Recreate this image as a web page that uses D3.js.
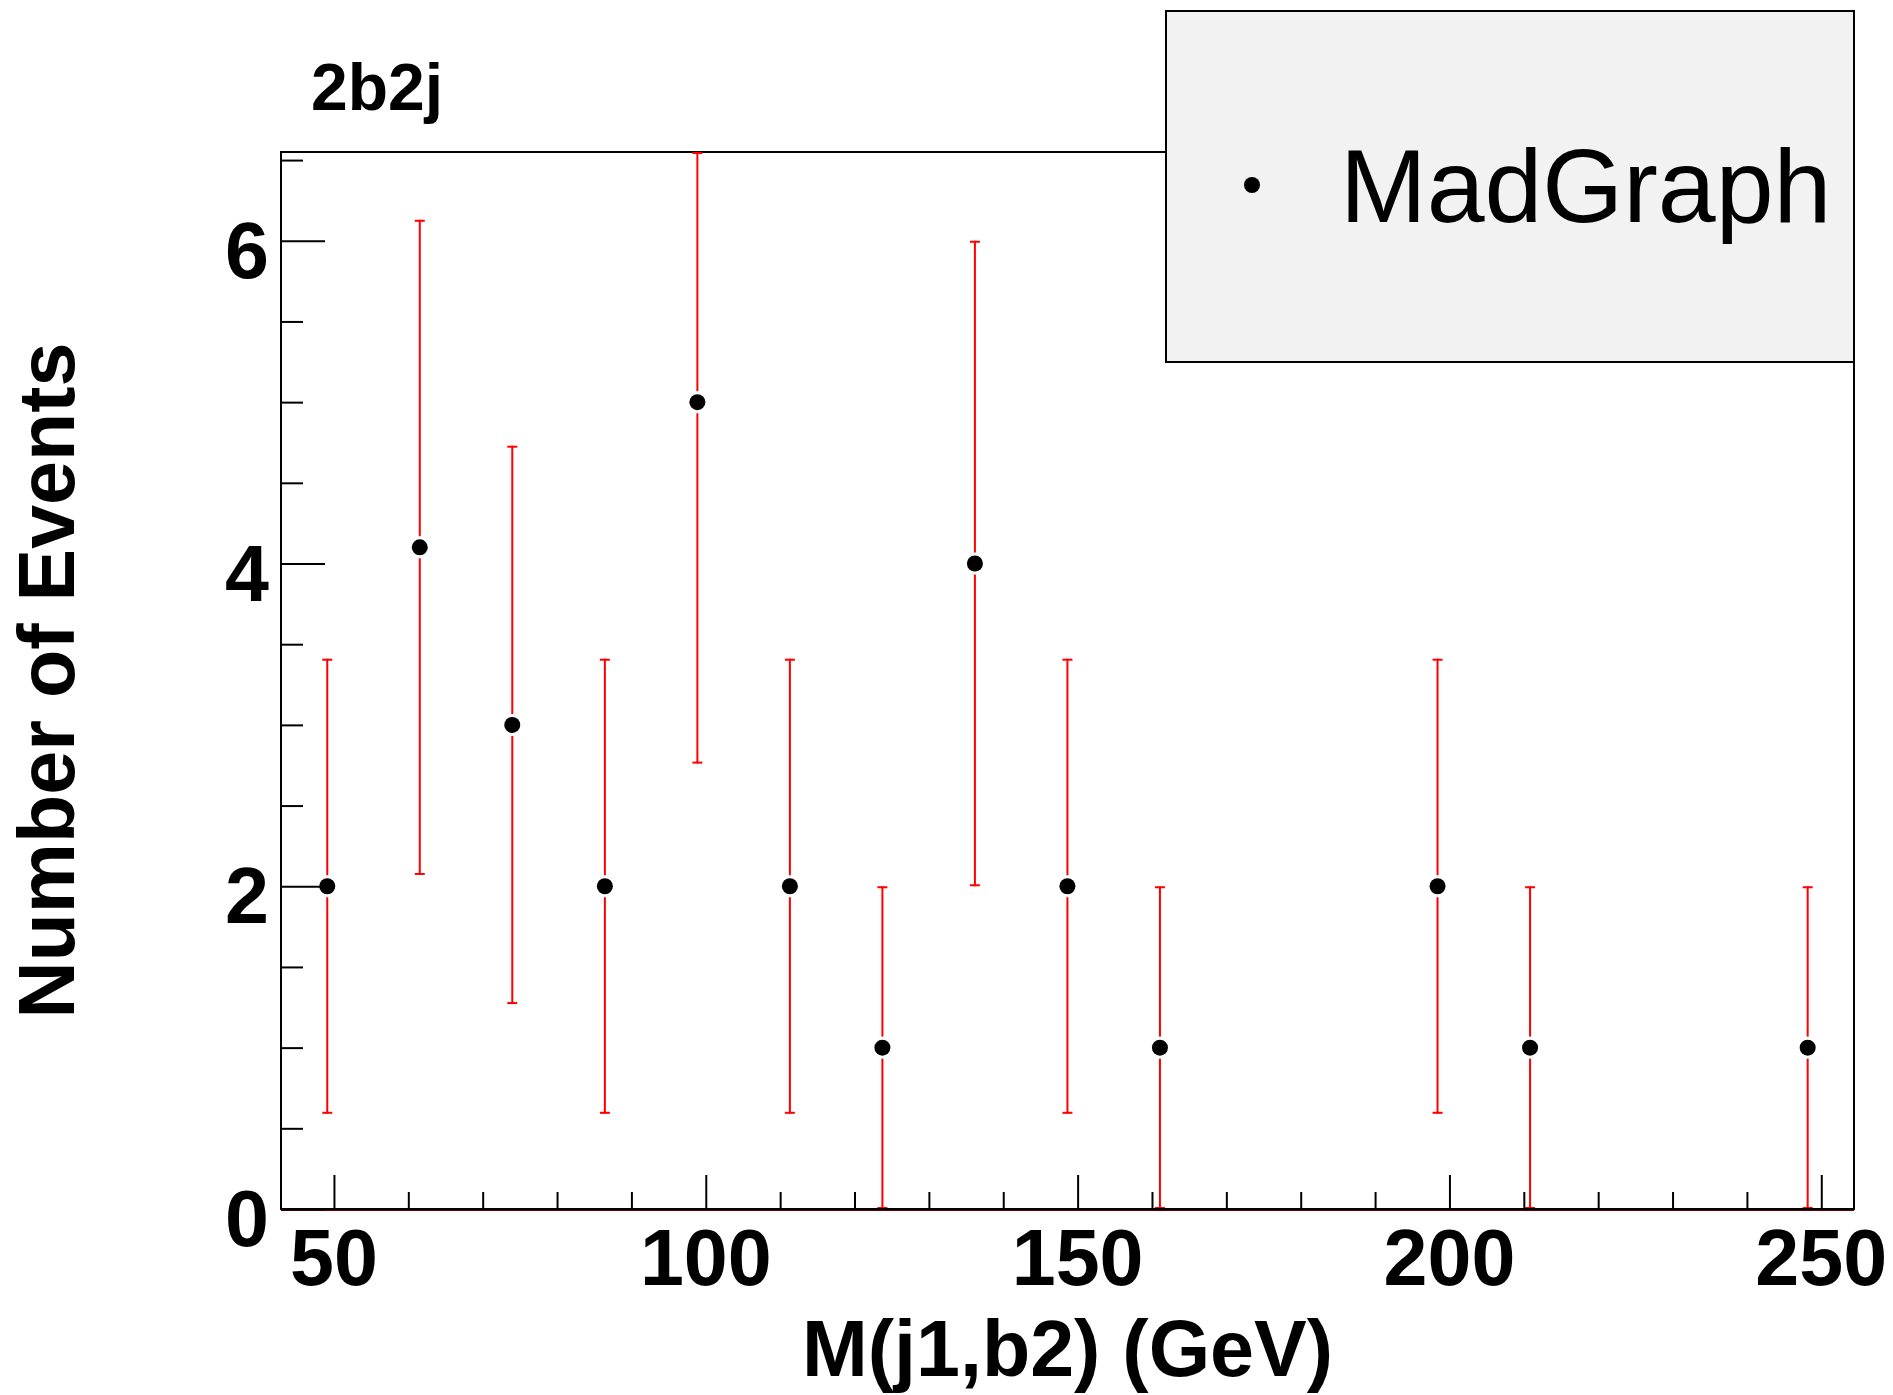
<!DOCTYPE html>
<html>
<head>
<meta charset="utf-8">
<script src="https://cdn.jsdelivr.net/npm/d3@7"></script>
<style>
  html, body { margin: 0; padding: 0; background: #ffffff; }
  svg { display: block; }
</style>
</head>
<body>
<script>
// ---- data ----
const binCenters = [49.10, 61.54, 73.98, 86.43, 98.87, 111.31, 123.75, 136.19, 148.63, 161.07, 173.52, 185.96, 198.40, 210.84, 223.28, 235.72, 248.17];
const counts     = [2, 4.1, 3, 2, 5, 2, 1, 4, 2, 1, 0, 0, 2, 1, 0, 0, 1];
const errors     = [1.41, 2.03, 1.73, 1.41, 2.24, 1.41, 1, 2, 1.41, 1, 0, 0, 1.41, 1, 0, 0, 1];
const xMajorTicks = [50, 100, 150, 200, 250];
const xMinorTicks = [60, 70, 80, 90, 110, 120, 130, 140, 160, 170, 180, 190, 210, 220, 230, 240];
const yMajorTicks = [0, 2, 4, 6];
const yMinorTicks = [0.5, 1, 1.5, 2.5, 3, 3.5, 4.5, 5, 5.5, 6.5];
const xDomain = [42.88, 254.4];
const yDomain = [0, 6.55];
const titleText = "2b2j";
const xTitle = "M(j1,b2) (GeV)";
const yTitle = "Number of Events";
const legendLabel = "MadGraph";

// ---- layout ----
const W = 1893, H = 1395;
const frame = { left: 281, right: 1854, top: 152, bottom: 1209 };
const FONT = "'Liberation Sans', Arial, Helvetica, sans-serif";

const svg = d3.select("body").append("svg").attr("width", W).attr("height", H);

const x = d3.scaleLinear().domain(xDomain).range([frame.left, frame.right]);
const y = d3.scaleLinear().domain(yDomain).range([frame.bottom, frame.top]);

// frame
svg.append("rect")
  .attr("x", frame.left).attr("y", frame.top)
  .attr("width", frame.right - frame.left).attr("height", frame.bottom - frame.top)
  .attr("fill", "none").attr("stroke", "#000").attr("stroke-width", 2);

// dark red line just under x axis
svg.append("line")
  .attr("x1", frame.left).attr("x2", frame.right)
  .attr("y1", frame.bottom + 1.5).attr("y2", frame.bottom + 1.5)
  .attr("stroke", "#700000").attr("stroke-width", 1);

// x axis (major + minor ticks, labels)
const xAxisMajor = d3.axisTop(x).tickValues(xMajorTicks).tickSize(34).tickFormat("");
const xAxisMinor = d3.axisTop(x).tickValues(xMinorTicks).tickSize(17).tickFormat("");
const gxM = svg.append("g").attr("transform", `translate(0,${frame.bottom})`).call(xAxisMajor);
const gxm = svg.append("g").attr("transform", `translate(0,${frame.bottom})`).call(xAxisMinor);
[gxM, gxm].forEach(g => {
  g.select(".domain").remove();
  g.selectAll(".tick line").attr("stroke", "#000").attr("stroke-width", 2);
});
svg.append("g").selectAll("text").data(xMajorTicks).join("text")
  .attr("x", d => x(d)).attr("y", 1285)
  .attr("text-anchor", "middle")
  .attr("font-family", FONT).attr("font-weight", "bold").attr("font-size", 79)
  .attr("fill", "#000")
  .text(d => d);

// y axis
const yAxisMajor = d3.axisRight(y).tickValues(yMajorTicks).tickSize(44).tickFormat("");
const yAxisMinor = d3.axisRight(y).tickValues(yMinorTicks).tickSize(22).tickFormat("");
const gyM = svg.append("g").attr("transform", `translate(${frame.left},0)`).call(yAxisMajor);
const gym = svg.append("g").attr("transform", `translate(${frame.left},0)`).call(yAxisMinor);
[gyM, gym].forEach(g => {
  g.select(".domain").remove();
  g.selectAll(".tick line").attr("stroke", "#000").attr("stroke-width", 2);
});
svg.append("g").selectAll("text").data(yMajorTicks).join("text")
  .attr("x", 269).attr("y", d => y(d) + 37)
  .attr("text-anchor", "end")
  .attr("font-family", FONT).attr("font-weight", "bold").attr("font-size", 79)
  .attr("fill", "#000")
  .text(d => d);

// axis titles
svg.append("text")
  .attr("x", (frame.left + frame.right) / 2).attr("y", 1376)
  .attr("text-anchor", "middle")
  .attr("font-family", FONT).attr("font-weight", "bold").attr("font-size", 79)
  .attr("fill", "#000")
  .text(xTitle);

svg.append("text")
  .attr("transform", `translate(74,${(frame.top + frame.bottom) / 2}) rotate(-90)`)
  .attr("text-anchor", "middle")
  .attr("font-family", FONT).attr("font-weight", "bold").attr("font-size", 79)
  .attr("fill", "#000")
  .text(yTitle);

// title
svg.append("text")
  .attr("x", 311).attr("y", 110)
  .attr("font-family", FONT).attr("font-weight", "bold").attr("font-size", 66)
  .attr("fill", "#000")
  .text(titleText);

// data points with error bars
const pts = binCenters.map((c, i) => ({ c, v: counts[i], e: errors[i] })).filter(d => d.v > 0);
const yClip = v => Math.max(yDomain[0], Math.min(yDomain[1], v));
const gap = 11, capW = 5;
const gErr = svg.append("g").attr("stroke", "#ff0000").attr("stroke-width", 2);
pts.forEach(d => {
  const cx = x(d.c), cy = y(d.v);
  const yTop = y(yClip(d.v + d.e)), yBot = y(yClip(d.v - d.e));
  if (cy - gap > yTop) gErr.append("line").attr("x1", cx).attr("x2", cx).attr("y1", yTop).attr("y2", cy - gap);
  if (cy + gap < yBot) gErr.append("line").attr("x1", cx).attr("x2", cx).attr("y1", cy + gap).attr("y2", yBot);
  gErr.append("line").attr("x1", cx - capW).attr("x2", cx + capW).attr("y1", yTop + 1).attr("y2", yTop + 1);
  gErr.append("line").attr("x1", cx - capW).attr("x2", cx + capW).attr("y1", yBot - 1).attr("y2", yBot - 1);
});
svg.append("g").selectAll("circle").data(pts).join("circle")
  .attr("cx", d => x(d.c)).attr("cy", d => y(d.v)).attr("r", 8)
  .attr("fill", "#000");

// redraw bottom axis line on top
svg.append("line")
  .attr("x1", frame.left).attr("x2", frame.right)
  .attr("y1", frame.bottom).attr("y2", frame.bottom)
  .attr("stroke", "#000").attr("stroke-width", 2);

// legend
const leg = { x0: 1166, x1: 1854, y0: 11, y1: 362 };
svg.append("rect")
  .attr("x", leg.x0).attr("y", leg.y0)
  .attr("width", leg.x1 - leg.x0).attr("height", leg.y1 - leg.y0)
  .attr("fill", "#f2f2f2").attr("stroke", "#000").attr("stroke-width", 2);
svg.append("circle").attr("cx", 1252).attr("cy", 185).attr("r", 8).attr("fill", "#000");
svg.append("text")
  .attr("x", 1340).attr("y", 222)
  .attr("font-family", FONT).attr("font-size", 104)
  .attr("fill", "#000")
  .text(legendLabel);
</script>
</body>
</html>
